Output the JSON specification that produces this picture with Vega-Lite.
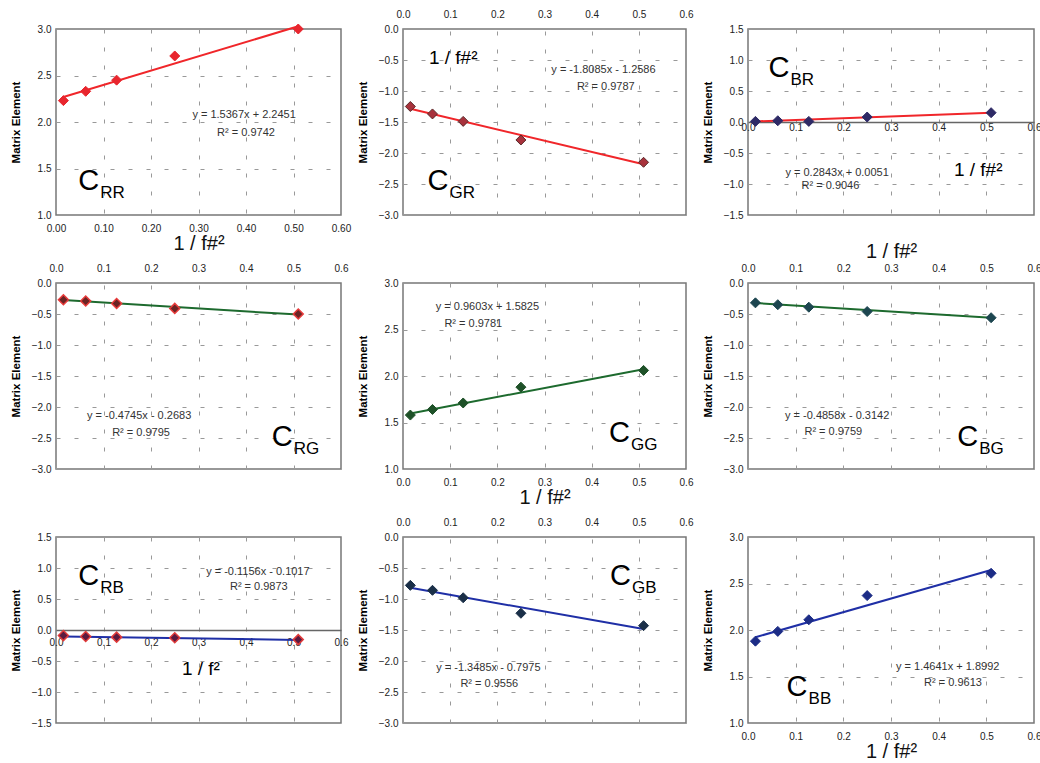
{
  "$schema": "https://vega.github.io/schema/vega-lite/v6.json",
  "background": "white",
  "padding": {"left": 9, "top": 8, "right": 2, "bottom": 2},
  "columns": 3,
  "spacing": {"row": 68, "column": 62},
  "bounds": "flush",
  "datasets": {
    "pts": [
      {"p": "RR", "x": 0.0156, "y": 2.23}, {"p": "RR", "x": 0.0625, "y": 2.33}, {"p": "RR", "x": 0.1276, "y": 2.45}, {"p": "RR", "x": 0.25, "y": 2.71}, {"p": "RR", "x": 0.51, "y": 3.0},
      {"p": "GR", "x": 0.0156, "y": -1.25}, {"p": "GR", "x": 0.0625, "y": -1.37}, {"p": "GR", "x": 0.1276, "y": -1.49}, {"p": "GR", "x": 0.25, "y": -1.79}, {"p": "GR", "x": 0.51, "y": -2.15},
      {"p": "BR", "x": 0.0156, "y": 0.01}, {"p": "BR", "x": 0.0625, "y": 0.02}, {"p": "BR", "x": 0.1276, "y": 0.01}, {"p": "BR", "x": 0.25, "y": 0.08}, {"p": "BR", "x": 0.51, "y": 0.15},
      {"p": "RG", "x": 0.0156, "y": -0.27}, {"p": "RG", "x": 0.0625, "y": -0.29}, {"p": "RG", "x": 0.1276, "y": -0.33}, {"p": "RG", "x": 0.25, "y": -0.41}, {"p": "RG", "x": 0.51, "y": -0.5},
      {"p": "GG", "x": 0.0156, "y": 1.58}, {"p": "GG", "x": 0.0625, "y": 1.64}, {"p": "GG", "x": 0.1276, "y": 1.71}, {"p": "GG", "x": 0.25, "y": 1.88}, {"p": "GG", "x": 0.51, "y": 2.06},
      {"p": "BG", "x": 0.0156, "y": -0.32}, {"p": "BG", "x": 0.0625, "y": -0.35}, {"p": "BG", "x": 0.1276, "y": -0.39}, {"p": "BG", "x": 0.25, "y": -0.46}, {"p": "BG", "x": 0.51, "y": -0.56},
      {"p": "RB", "x": 0.0156, "y": -0.09}, {"p": "RB", "x": 0.0625, "y": -0.105}, {"p": "RB", "x": 0.1276, "y": -0.115}, {"p": "RB", "x": 0.25, "y": -0.125}, {"p": "RB", "x": 0.51, "y": -0.155},
      {"p": "GB", "x": 0.0156, "y": -0.78}, {"p": "GB", "x": 0.0625, "y": -0.86}, {"p": "GB", "x": 0.1276, "y": -0.98}, {"p": "GB", "x": 0.25, "y": -1.23}, {"p": "GB", "x": 0.51, "y": -1.43},
      {"p": "BB", "x": 0.0156, "y": 1.88}, {"p": "BB", "x": 0.0625, "y": 1.985}, {"p": "BB", "x": 0.1276, "y": 2.11}, {"p": "BB", "x": 0.25, "y": 2.37}, {"p": "BB", "x": 0.51, "y": 2.61}
    ],
    "fit": [
      {"p": "RR", "x": 0.0156, "y": 2.269}, {"p": "RR", "x": 0.51, "y": 3.029},
      {"p": "GR", "x": 0.0156, "y": -1.287}, {"p": "GR", "x": 0.51, "y": -2.181},
      {"p": "BR", "x": 0.0156, "y": 0.0095}, {"p": "BR", "x": 0.51, "y": 0.15},
      {"p": "RG", "x": 0.0156, "y": -0.276}, {"p": "RG", "x": 0.51, "y": -0.51},
      {"p": "GG", "x": 0.0156, "y": 1.597}, {"p": "GG", "x": 0.51, "y": 2.072},
      {"p": "BG", "x": 0.0156, "y": -0.322}, {"p": "BG", "x": 0.51, "y": -0.562},
      {"p": "RB", "x": 0.0156, "y": -0.1035}, {"p": "RB", "x": 0.51, "y": -0.1607},
      {"p": "GB", "x": 0.0156, "y": -0.8185}, {"p": "GB", "x": 0.51, "y": -1.485},
      {"p": "BB", "x": 0.0156, "y": 1.922}, {"p": "BB", "x": 0.51, "y": 2.646}
    ],
    "txt": [
      {"p": "RR", "k": "eq", "x": 0.396, "y": 2.08, "t": "y = 1.5367x + 2.2451"},
      {"p": "RR", "k": "eq", "x": 0.4, "y": 1.88, "t": "R² = 0.9742"},
      {"p": "GR", "k": "eq", "x": 0.425, "y": -0.66, "t": "y = -1.8085x - 1.2586"},
      {"p": "GR", "k": "eq", "x": 0.43, "y": -0.935, "t": "R² = 0.9787"},
      {"p": "GR", "k": "ttl", "x": 0.055, "y": -0.565, "t": "1 / f#²"},
      {"p": "BR", "k": "eq", "x": 0.187, "y": -0.82, "t": "y = 0.2843x + 0.0051"},
      {"p": "BR", "k": "eq", "x": 0.173, "y": -1.03, "t": "R² = 0.9046"},
      {"p": "BR", "k": "ttl", "x": 0.432, "y": -0.87, "t": "1 / f#²"},
      {"p": "RG", "k": "eq", "x": 0.175, "y": -2.15, "t": "y = -0.4745x - 0.2683"},
      {"p": "RG", "k": "eq", "x": 0.179, "y": -2.42, "t": "R² = 0.9795"},
      {"p": "GG", "k": "eq", "x": 0.179, "y": 2.74, "t": "y = 0.9603x + 1.5825"},
      {"p": "GG", "k": "eq", "x": 0.149, "y": 2.56, "t": "R² = 0.9781"},
      {"p": "BG", "k": "eq", "x": 0.187, "y": -2.15, "t": "y = -0.4858x - 0.3142"},
      {"p": "BG", "k": "eq", "x": 0.179, "y": -2.41, "t": "R² = 0.9759"},
      {"p": "RB", "k": "eq", "x": 0.425, "y": 0.94, "t": "y = -0.1156x - 0.1017"},
      {"p": "RB", "k": "eq", "x": 0.427, "y": 0.69, "t": "R² = 0.9873"},
      {"p": "RB", "k": "ttl", "x": 0.265, "y": -0.73, "t": "1 / f²"},
      {"p": "GB", "k": "eq", "x": 0.181, "y": -2.12, "t": "y = -1.3485x - 0.7975"},
      {"p": "GB", "k": "eq", "x": 0.183, "y": -2.37, "t": "R² = 0.9556"},
      {"p": "BB", "k": "eq", "x": 0.419, "y": 1.6, "t": "y = 1.4641x + 1.8992"},
      {"p": "BB", "k": "eq", "x": 0.43, "y": 1.43, "t": "R² = 0.9613"}
    ],
    "lab": [
      {"p": "RR", "x": 0.047, "y": 1.27, "c": "C", "s": "RR"},
      {"p": "GR", "x": 0.052, "y": -2.6, "c": "C", "s": "GR"},
      {"p": "BR", "x": 0.043, "y": 0.72, "c": "C", "s": "BR"},
      {"p": "RG", "x": 0.454, "y": -2.63, "c": "C", "s": "RG"},
      {"p": "GG", "x": 0.437, "y": 1.29, "c": "C", "s": "GG"},
      {"p": "BG", "x": 0.439, "y": -2.63, "c": "C", "s": "BG"},
      {"p": "RB", "x": 0.047, "y": 0.726, "c": "C", "s": "RB"},
      {"p": "GB", "x": 0.439, "y": -0.78, "c": "C", "s": "GB"},
      {"p": "BB", "x": 0.081, "y": 1.295, "c": "C", "s": "BB"}
    ]
  },
  "concat": [
    {
      "width": 285, "height": 186,
      "encoding": {
        "x": {"field": "x", "type": "quantitative", "scale": {"domain": [0, 0.6], "nice": false, "zero": false},
              "axis": {"orient": "bottom", "values": [0, 0.1, 0.2, 0.3, 0.4, 0.5, 0.6], "format": ".2f", "title": "1 / f#²", "labelPadding": 8, "titlePadding": 0}},
        "y": {"field": "y", "type": "quantitative", "scale": {"domain": [1, 3], "nice": false, "zero": false},
              "axis": {"values": [1, 1.5, 2, 2.5, 3], "format": ".1f", "title": "Matrix Element"}}
      },
      "layer": [
        {"data": {"name": "fit"}, "transform": [{"filter": "datum.p == 'RR'"}], "mark": {"type": "line", "color": "#f0262a", "strokeWidth": 2}},
        {"data": {"name": "pts"}, "transform": [{"filter": "datum.p == 'RR'"}], "mark": {"type": "point", "shape": "diamond", "filled": true, "size": 100, "fill": "#e8262e", "stroke": "#e8262e", "strokeWidth": 1, "opacity": 1}},
        {"data": {"name": "txt"}, "transform": [{"filter": "datum.p == 'RR' && datum.k == 'eq'"}], "mark": {"type": "text", "fontSize": 11, "color": "#333"}, "encoding": {"text": {"field": "t"}}},
        {"data": {"name": "lab"}, "transform": [{"filter": "datum.p == 'RR'"}], "mark": {"type": "text", "fontSize": 29, "align": "left", "baseline": "alphabetic", "color": "#000"}, "encoding": {"text": {"field": "c"}}},
        {"data": {"name": "lab"}, "transform": [{"filter": "datum.p == 'RR'"}], "mark": {"type": "text", "fontSize": 17, "align": "left", "baseline": "alphabetic", "dx": 22, "dy": 8, "color": "#000"}, "encoding": {"text": {"field": "s"}}}
      ]
    },
    {
      "width": 283, "height": 186,
      "encoding": {
        "x": {"field": "x", "type": "quantitative", "scale": {"domain": [0, 0.6], "nice": false, "zero": false},
              "axis": {"orient": "top", "values": [0, 0.1, 0.2, 0.3, 0.4, 0.5, 0.6], "format": ".1f", "title": null, "labelPadding": 10}},
        "y": {"field": "y", "type": "quantitative", "scale": {"domain": [-3, 0], "nice": false, "zero": false},
              "axis": {"values": [-3, -2.5, -2, -1.5, -1, -0.5, 0], "format": ".1f", "title": "Matrix Element"}}
      },
      "layer": [
        {"data": {"name": "fit"}, "transform": [{"filter": "datum.p == 'GR'"}], "mark": {"type": "line", "color": "#f0262a", "strokeWidth": 2}},
        {"data": {"name": "pts"}, "transform": [{"filter": "datum.p == 'GR'"}], "mark": {"type": "point", "shape": "diamond", "filled": true, "size": 100, "fill": "#a8323c", "stroke": "#5a2a2a", "strokeWidth": 1, "opacity": 1}},
        {"data": {"name": "txt"}, "transform": [{"filter": "datum.p == 'GR' && datum.k == 'eq'"}], "mark": {"type": "text", "fontSize": 11, "color": "#333"}, "encoding": {"text": {"field": "t"}}},
        {"data": {"name": "txt"}, "transform": [{"filter": "datum.p == 'GR' && datum.k == 'ttl'"}], "mark": {"type": "text", "fontSize": 19, "align": "left", "baseline": "alphabetic", "color": "#000"}, "encoding": {"text": {"field": "t"}}},
        {"data": {"name": "lab"}, "transform": [{"filter": "datum.p == 'GR'"}], "mark": {"type": "text", "fontSize": 29, "align": "left", "baseline": "alphabetic", "color": "#000"}, "encoding": {"text": {"field": "c"}}},
        {"data": {"name": "lab"}, "transform": [{"filter": "datum.p == 'GR'"}], "mark": {"type": "text", "fontSize": 17, "align": "left", "baseline": "alphabetic", "dx": 22, "dy": 8, "color": "#000"}, "encoding": {"text": {"field": "s"}}}
      ]
    },
    {
      "width": 286, "height": 186,
      "encoding": {
        "x": {"field": "x", "type": "quantitative", "scale": {"domain": [0, 0.6], "nice": false, "zero": false},
              "axis": {"orient": "bottom", "offset": -93, "domain": true, "values": [0, 0.1, 0.2, 0.3, 0.4, 0.5, 0.6], "format": ".1f", "title": null, "labelPadding": 0}},
        "y": {"field": "y", "type": "quantitative", "scale": {"domain": [-1.5, 1.5], "nice": false, "zero": false},
              "axis": {"values": [-1.5, -1, -0.5, 0, 0.5, 1, 1.5], "format": ".1f", "title": "Matrix Element"}}
      },
      "layer": [
        {"data": {"name": "fit"}, "transform": [{"filter": "datum.p == 'BR'"}], "mark": {"type": "line", "color": "#f0262a", "strokeWidth": 2}},
        {"data": {"name": "pts"}, "transform": [{"filter": "datum.p == 'BR'"}], "mark": {"type": "point", "shape": "diamond", "filled": true, "size": 100, "fill": "#2e2a66", "stroke": "#2e2a66", "strokeWidth": 1, "opacity": 1}},
        {"data": {"name": "txt"}, "transform": [{"filter": "datum.p == 'BR' && datum.k == 'eq'"}], "mark": {"type": "text", "fontSize": 11, "color": "#333"}, "encoding": {"text": {"field": "t"}}},
        {"data": {"name": "txt"}, "transform": [{"filter": "datum.p == 'BR' && datum.k == 'ttl'"}], "mark": {"type": "text", "fontSize": 19, "align": "left", "baseline": "alphabetic", "color": "#000"}, "encoding": {"text": {"field": "t"}}},
        {"data": {"name": "lab"}, "transform": [{"filter": "datum.p == 'BR'"}], "mark": {"type": "text", "fontSize": 29, "align": "left", "baseline": "alphabetic", "color": "#000"}, "encoding": {"text": {"field": "c"}}},
        {"data": {"name": "lab"}, "transform": [{"filter": "datum.p == 'BR'"}], "mark": {"type": "text", "fontSize": 17, "align": "left", "baseline": "alphabetic", "dx": 22, "dy": 8, "color": "#000"}, "encoding": {"text": {"field": "s"}}}
      ]
    },
    {
      "width": 285, "height": 186,
      "encoding": {
        "x": {"field": "x", "type": "quantitative", "scale": {"domain": [0, 0.6], "nice": false, "zero": false},
              "axis": {"orient": "top", "values": [0, 0.1, 0.2, 0.3, 0.4, 0.5, 0.6], "format": ".1f", "title": null, "labelPadding": 10}},
        "y": {"field": "y", "type": "quantitative", "scale": {"domain": [-3, 0], "nice": false, "zero": false},
              "axis": {"values": [-3, -2.5, -2, -1.5, -1, -0.5, 0], "format": ".1f", "title": "Matrix Element"}}
      },
      "layer": [
        {"data": {"name": "fit"}, "transform": [{"filter": "datum.p == 'RG'"}], "mark": {"type": "line", "color": "#1d6a2e", "strokeWidth": 2}},
        {"data": {"name": "pts"}, "transform": [{"filter": "datum.p == 'RG'"}], "mark": {"type": "point", "shape": "diamond", "filled": true, "size": 100, "fill": "#6b2424", "stroke": "#e83a3a", "strokeWidth": 1.5, "opacity": 1}},
        {"data": {"name": "txt"}, "transform": [{"filter": "datum.p == 'RG' && datum.k == 'eq'"}], "mark": {"type": "text", "fontSize": 11, "color": "#333"}, "encoding": {"text": {"field": "t"}}},
        {"data": {"name": "lab"}, "transform": [{"filter": "datum.p == 'RG'"}], "mark": {"type": "text", "fontSize": 29, "align": "left", "baseline": "alphabetic", "color": "#000"}, "encoding": {"text": {"field": "c"}}},
        {"data": {"name": "lab"}, "transform": [{"filter": "datum.p == 'RG'"}], "mark": {"type": "text", "fontSize": 17, "align": "left", "baseline": "alphabetic", "dx": 22, "dy": 8, "color": "#000"}, "encoding": {"text": {"field": "s"}}}
      ]
    },
    {
      "width": 283, "height": 186,
      "encoding": {
        "x": {"field": "x", "type": "quantitative", "scale": {"domain": [0, 0.6], "nice": false, "zero": false},
              "axis": {"orient": "bottom", "values": [0, 0.1, 0.2, 0.3, 0.4, 0.5, 0.6], "format": ".1f", "title": "1 / f#²", "labelPadding": 8, "titlePadding": 0}},
        "y": {"field": "y", "type": "quantitative", "scale": {"domain": [1, 3], "nice": false, "zero": false},
              "axis": {"values": [1, 1.5, 2, 2.5, 3], "format": ".1f", "title": "Matrix Element"}}
      },
      "layer": [
        {"data": {"name": "fit"}, "transform": [{"filter": "datum.p == 'GG'"}], "mark": {"type": "line", "color": "#1d6a2e", "strokeWidth": 2}},
        {"data": {"name": "pts"}, "transform": [{"filter": "datum.p == 'GG'"}], "mark": {"type": "point", "shape": "diamond", "filled": true, "size": 100, "fill": "#1e5128", "stroke": "#1e5128", "strokeWidth": 1, "opacity": 1}},
        {"data": {"name": "txt"}, "transform": [{"filter": "datum.p == 'GG' && datum.k == 'eq'"}], "mark": {"type": "text", "fontSize": 11, "color": "#333"}, "encoding": {"text": {"field": "t"}}},
        {"data": {"name": "lab"}, "transform": [{"filter": "datum.p == 'GG'"}], "mark": {"type": "text", "fontSize": 29, "align": "left", "baseline": "alphabetic", "color": "#000"}, "encoding": {"text": {"field": "c"}}},
        {"data": {"name": "lab"}, "transform": [{"filter": "datum.p == 'GG'"}], "mark": {"type": "text", "fontSize": 17, "align": "left", "baseline": "alphabetic", "dx": 22, "dy": 8, "color": "#000"}, "encoding": {"text": {"field": "s"}}}
      ]
    },
    {
      "width": 286, "height": 186,
      "encoding": {
        "x": {"field": "x", "type": "quantitative", "scale": {"domain": [0, 0.6], "nice": false, "zero": false},
              "axis": {"orient": "top", "values": [0, 0.1, 0.2, 0.3, 0.4, 0.5, 0.6], "format": ".1f", "title": "1 / f#²", "labelPadding": 10, "titlePadding": 2}},
        "y": {"field": "y", "type": "quantitative", "scale": {"domain": [-3, 0], "nice": false, "zero": false},
              "axis": {"values": [-3, -2.5, -2, -1.5, -1, -0.5, 0], "format": ".1f", "title": "Matrix Element"}}
      },
      "layer": [
        {"data": {"name": "fit"}, "transform": [{"filter": "datum.p == 'BG'"}], "mark": {"type": "line", "color": "#1d6a2e", "strokeWidth": 2}},
        {"data": {"name": "pts"}, "transform": [{"filter": "datum.p == 'BG'"}], "mark": {"type": "point", "shape": "diamond", "filled": true, "size": 100, "fill": "#1d4650", "stroke": "#1d4650", "strokeWidth": 1, "opacity": 1}},
        {"data": {"name": "txt"}, "transform": [{"filter": "datum.p == 'BG' && datum.k == 'eq'"}], "mark": {"type": "text", "fontSize": 11, "color": "#333"}, "encoding": {"text": {"field": "t"}}},
        {"data": {"name": "lab"}, "transform": [{"filter": "datum.p == 'BG'"}], "mark": {"type": "text", "fontSize": 29, "align": "left", "baseline": "alphabetic", "color": "#000"}, "encoding": {"text": {"field": "c"}}},
        {"data": {"name": "lab"}, "transform": [{"filter": "datum.p == 'BG'"}], "mark": {"type": "text", "fontSize": 17, "align": "left", "baseline": "alphabetic", "dx": 22, "dy": 8, "color": "#000"}, "encoding": {"text": {"field": "s"}}}
      ]
    },
    {
      "width": 285, "height": 186,
      "encoding": {
        "x": {"field": "x", "type": "quantitative", "scale": {"domain": [0, 0.6], "nice": false, "zero": false},
              "axis": {"orient": "bottom", "offset": -93, "domain": true, "values": [0, 0.1, 0.2, 0.3, 0.4, 0.5, 0.6], "format": ".1f", "title": null, "labelPadding": 7}},
        "y": {"field": "y", "type": "quantitative", "scale": {"domain": [-1.5, 1.5], "nice": false, "zero": false},
              "axis": {"values": [-1.5, -1, -0.5, 0, 0.5, 1, 1.5], "format": ".1f", "title": "Matrix Element"}}
      },
      "layer": [
        {"data": {"name": "fit"}, "transform": [{"filter": "datum.p == 'RB'"}], "mark": {"type": "line", "color": "#1f2fa6", "strokeWidth": 2}},
        {"data": {"name": "pts"}, "transform": [{"filter": "datum.p == 'RB'"}], "mark": {"type": "point", "shape": "diamond", "filled": true, "size": 100, "fill": "#5a1a40", "stroke": "#e03a3a", "strokeWidth": 1.5, "opacity": 1}},
        {"data": {"name": "txt"}, "transform": [{"filter": "datum.p == 'RB' && datum.k == 'eq'"}], "mark": {"type": "text", "fontSize": 11, "color": "#333"}, "encoding": {"text": {"field": "t"}}},
        {"data": {"name": "txt"}, "transform": [{"filter": "datum.p == 'RB' && datum.k == 'ttl'"}], "mark": {"type": "text", "fontSize": 19, "align": "left", "baseline": "alphabetic", "color": "#000"}, "encoding": {"text": {"field": "t"}}},
        {"data": {"name": "lab"}, "transform": [{"filter": "datum.p == 'RB'"}], "mark": {"type": "text", "fontSize": 29, "align": "left", "baseline": "alphabetic", "color": "#000"}, "encoding": {"text": {"field": "c"}}},
        {"data": {"name": "lab"}, "transform": [{"filter": "datum.p == 'RB'"}], "mark": {"type": "text", "fontSize": 17, "align": "left", "baseline": "alphabetic", "dx": 22, "dy": 8, "color": "#000"}, "encoding": {"text": {"field": "s"}}}
      ]
    },
    {
      "width": 283, "height": 186,
      "encoding": {
        "x": {"field": "x", "type": "quantitative", "scale": {"domain": [0, 0.6], "nice": false, "zero": false},
              "axis": {"orient": "top", "values": [0, 0.1, 0.2, 0.3, 0.4, 0.5, 0.6], "format": ".1f", "title": null, "labelPadding": 10}},
        "y": {"field": "y", "type": "quantitative", "scale": {"domain": [-3, 0], "nice": false, "zero": false},
              "axis": {"values": [-3, -2.5, -2, -1.5, -1, -0.5, 0], "format": ".1f", "title": "Matrix Element"}}
      },
      "layer": [
        {"data": {"name": "fit"}, "transform": [{"filter": "datum.p == 'GB'"}], "mark": {"type": "line", "color": "#1f2fa6", "strokeWidth": 2}},
        {"data": {"name": "pts"}, "transform": [{"filter": "datum.p == 'GB'"}], "mark": {"type": "point", "shape": "diamond", "filled": true, "size": 100, "fill": "#1a2f48", "stroke": "#1a2f48", "strokeWidth": 1, "opacity": 1}},
        {"data": {"name": "txt"}, "transform": [{"filter": "datum.p == 'GB' && datum.k == 'eq'"}], "mark": {"type": "text", "fontSize": 11, "color": "#333"}, "encoding": {"text": {"field": "t"}}},
        {"data": {"name": "lab"}, "transform": [{"filter": "datum.p == 'GB'"}], "mark": {"type": "text", "fontSize": 29, "align": "left", "baseline": "alphabetic", "color": "#000"}, "encoding": {"text": {"field": "c"}}},
        {"data": {"name": "lab"}, "transform": [{"filter": "datum.p == 'GB'"}], "mark": {"type": "text", "fontSize": 17, "align": "left", "baseline": "alphabetic", "dx": 22, "dy": 8, "color": "#000"}, "encoding": {"text": {"field": "s"}}}
      ]
    },
    {
      "width": 286, "height": 186,
      "encoding": {
        "x": {"field": "x", "type": "quantitative", "scale": {"domain": [0, 0.6], "nice": false, "zero": false},
              "axis": {"orient": "bottom", "values": [0, 0.1, 0.2, 0.3, 0.4, 0.5, 0.6], "format": ".1f", "title": "1 / f#²", "labelPadding": 8, "titlePadding": 0}},
        "y": {"field": "y", "type": "quantitative", "scale": {"domain": [1, 3], "nice": false, "zero": false},
              "axis": {"values": [1, 1.5, 2, 2.5, 3], "format": ".1f", "title": "Matrix Element"}}
      },
      "layer": [
        {"data": {"name": "fit"}, "transform": [{"filter": "datum.p == 'BB'"}], "mark": {"type": "line", "color": "#1f2fa6", "strokeWidth": 2}},
        {"data": {"name": "pts"}, "transform": [{"filter": "datum.p == 'BB'"}], "mark": {"type": "point", "shape": "diamond", "filled": true, "size": 100, "fill": "#1c2c86", "stroke": "#1c2c86", "strokeWidth": 1, "opacity": 1}},
        {"data": {"name": "txt"}, "transform": [{"filter": "datum.p == 'BB' && datum.k == 'eq'"}], "mark": {"type": "text", "fontSize": 11, "color": "#333"}, "encoding": {"text": {"field": "t"}}},
        {"data": {"name": "lab"}, "transform": [{"filter": "datum.p == 'BB'"}], "mark": {"type": "text", "fontSize": 29, "align": "left", "baseline": "alphabetic", "color": "#000"}, "encoding": {"text": {"field": "c"}}},
        {"data": {"name": "lab"}, "transform": [{"filter": "datum.p == 'BB'"}], "mark": {"type": "text", "fontSize": 17, "align": "left", "baseline": "alphabetic", "dx": 22, "dy": 8, "color": "#000"}, "encoding": {"text": {"field": "s"}}}
      ]
    }
  ],
  "config": {
    "font": "Liberation Sans",
    "view": {"stroke": "#777", "strokeWidth": 1.5},
    "text": {"font": "Liberation Sans"},
    "axis": {
      "labelFont": "Liberation Sans", "labelFontSize": 10, "labelColor": "#222", "labelFlush": false, "labelOverlap": false,
      "ticks": false, "domain": false, "domainColor": "#666", "domainWidth": 1.5,
      "grid": true, "gridColor": "#999", "gridDash": [4, 14], "gridWidth": 1,
      "titleFont": "Liberation Sans", "titleColor": "#111"
    },
    "axisX": {"titleFontSize": 20, "titleFontWeight": "normal"},
    "axisY": {"titleFontSize": 11.5, "titleFontWeight": "bold", "titleX": -35, "labelPadding": 5, "titleColor": "#000"}
  }
}
